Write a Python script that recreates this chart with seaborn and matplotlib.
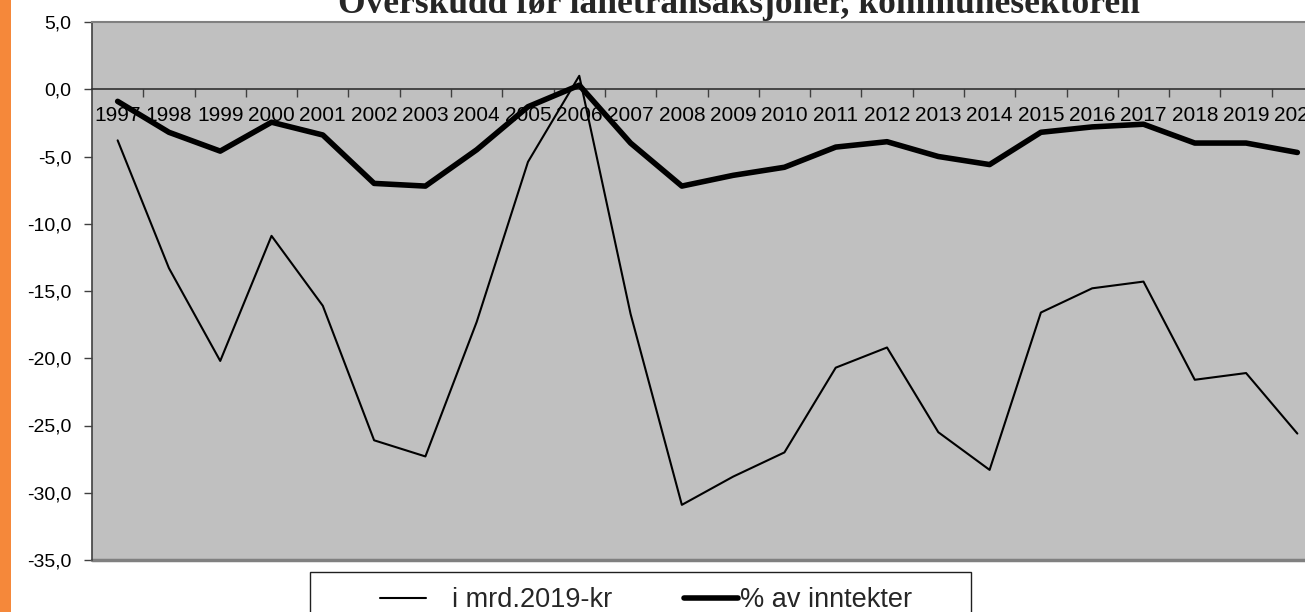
import matplotlib
matplotlib.use("Agg")
import matplotlib.pyplot as plt
import seaborn as sns
import numpy as np
import pandas as pd
from matplotlib.ticker import FixedLocator, FuncFormatter
from matplotlib.lines import Line2D

years = list(range(1997, 2021))
mrd_2019kr = [-3.8, -13.3, -20.2, -10.9, -16.1, -26.1, -27.3, -17.3, -5.4, 1.0,
              -16.7, -30.9, -28.8, -27.0, -20.7, -19.2, -25.5, -28.3, -16.6, -14.8,
              -14.3, -21.6, -21.1, -25.6]
pct_inntekter = [-0.9, -3.2, -4.6, -2.45, -3.4, -7.0, -7.2, -4.5, -1.3, 0.3,
                 -4.0, -7.2, -6.4, -5.8, -4.3, -3.9, -5.0, -5.6, -3.2, -2.8,
                 -2.6, -4.0, -4.0, -4.7]
y_ticks = [5, 0, -5, -10, -15, -20, -25, -30, -35]
title = "Overskudd før lånetransaksjoner, kommunesektoren"
label_thin = "i mrd.2019-kr"
label_thick = "% av inntekter"

sns.set_theme(style="white")
plt.rcParams['font.family'] = ['Liberation Sans', 'DejaVu Sans']

W, H = 1305, 612
fig = plt.figure(figsize=(W / 100, H / 100), dpi=100)
fig.patch.set_facecolor("white")

# orange strip at left edge
fig.patches.append(plt.Rectangle((0, 0), 11 / W, 1, transform=fig.transFigure,
                                 facecolor="#F5883A", edgecolor="none", zorder=0))

left_px, right_px, top_px, bottom_px = 92, 1323, 22, 560
ax = fig.add_axes([left_px / W, 1 - bottom_px / H, (right_px - left_px) / W,
                   (bottom_px - top_px) / H])
ax.set_facecolor("#C0C0C0")

LW_THIN, LW_THICK = 1.5, 4.0
df = pd.DataFrame({"year": years, "mrd": mrd_2019kr, "pct": pct_inntekter})
sns.lineplot(data=df, x="year", y="mrd", ax=ax, color="black", linewidth=LW_THIN, zorder=3)
sns.lineplot(data=df, x="year", y="pct", ax=ax, color="black", linewidth=LW_THICK, zorder=3)

ax.set_xlim(years[0] - 0.5, years[-1] + 0.5)
ax.set_ylim(-35, 5)
ax.set_xlabel("")
ax.set_ylabel("")

# y axis
ax.yaxis.set_major_locator(FixedLocator(y_ticks))
ax.yaxis.set_major_formatter(FuncFormatter(lambda v, p: f"{v:.1f}".replace(".", ",")))
ax.tick_params(axis="y", which="major", direction="out", length=6, width=1,
               color="#404040", labelsize=14, labelcolor="black", pad=9, left=True)

# x axis at zero
ax.spines["bottom"].set_position(("data", 0))
ax.spines["bottom"].set_color("#303030")
ax.spines["bottom"].set_linewidth(1.2)
ax.spines["left"].set_color("#404040")
ax.spines["left"].set_linewidth(1.2)
ax.spines["top"].set_color("#808080")
ax.spines["top"].set_linewidth(1.5)
ax.spines["right"].set_visible(False)
ax.axhline(-35, color="#808080", linewidth=2.5, clip_on=False)

ax.xaxis.set_major_locator(FixedLocator(years))
ax.set_xticklabels([str(y) for y in years])
ax.xaxis.set_minor_locator(FixedLocator([y + 0.5 for y in years[:-1]]))
ax.tick_params(axis="x", which="major", length=0, labelsize=15, labelcolor="black",
               pad=12, bottom=True)
ax.tick_params(axis="x", which="minor", direction="out", length=6, width=1,
               color="#404040", bottom=True)

# title (partially cut at top as in reference)
fig.text(739 / W, 1 - 13 / H, title, ha="center", va="baseline",
         fontsize=25.5, fontweight="bold", family=["Liberation Serif", "DejaVu Serif"])

# legend box
fig.patches.append(plt.Rectangle((310 / W, -0.05), (971 - 310) / W, 0.05 + (H - 572) / H,
                                 transform=fig.transFigure, facecolor="white",
                                 edgecolor="#202020", linewidth=1.0, zorder=1))

FS = 19.5
em = FS * 100 / 72
leg1 = fig.legend([Line2D([], [], color="black", linewidth=LW_THIN)], [label_thin],
                  loc="center left", bbox_to_anchor=(380 / W, 1 - 600 / H),
                  frameon=False, fontsize=FS, handlelength=46 / em,
                  handletextpad=26 / em, borderpad=0, borderaxespad=0)
leg2 = fig.legend([Line2D([], [], color="black", linewidth=LW_THICK)], [label_thick],
                  loc="center left", bbox_to_anchor=(684 / W, 1 - 600 / H),
                  frameon=False, fontsize=FS, handlelength=54 / em,
                  handletextpad=2 / em, borderpad=0, borderaxespad=0)

fig.savefig("out.png", dpi=100, facecolor="white")
